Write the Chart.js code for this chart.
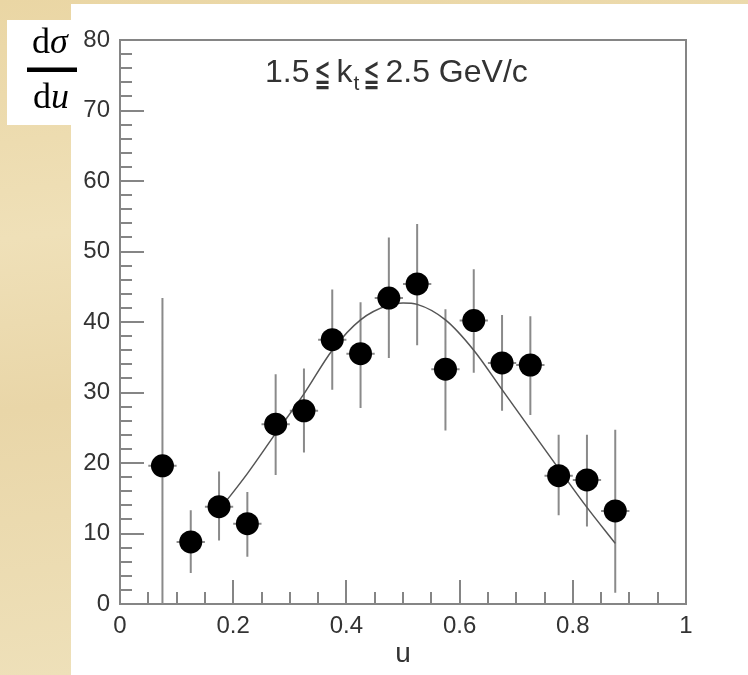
<!DOCTYPE html>
<html>
<head>
<meta charset="utf-8">
<script src="https://cdn.jsdelivr.net/npm/chart.js@4.4.1/dist/chart.umd.min.js"></script>
<style>
  html, body { margin: 0; padding: 0; background: #ead8aa; }
  #wrap { width: 748px; height: 675px; }
</style>
</head>
<body>
<div id="wrap"><canvas id="c" width="748" height="675"></canvas></div>
<script>
// bin centres in u and measured dσ/du, with lower/upper ends of the error bars
const uBins    = [0.075, 0.125, 0.175, 0.225, 0.275, 0.325, 0.375, 0.425, 0.475, 0.525, 0.575, 0.625, 0.675, 0.725, 0.775, 0.825, 0.875];
const dsdu     = [19.6, 8.8, 13.8, 11.4, 25.5, 27.4, 37.5, 35.5, 43.4, 45.4, 33.3, 40.2, 34.2, 33.9, 18.2, 17.6, 13.2];
const dsduLow  = [0, 4.4, 9.0, 6.7, 18.3, 21.5, 30.4, 27.8, 34.9, 36.7, 24.6, 32.8, 27.4, 26.8, 12.6, 11.0, 1.6];
const dsduHigh = [43.4, 13.3, 18.8, 15.9, 32.6, 33.4, 44.6, 42.8, 52.0, 53.9, 41.8, 47.5, 41.0, 40.8, 24.0, 24.0, 24.7];
const binHalf = 0.025;

// fit curve
const fitU = [0.175, 0.225, 0.275, 0.325, 0.375, 0.425, 0.475, 0.5, 0.525, 0.575, 0.625, 0.675, 0.725, 0.775, 0.825, 0.875];
const fitY = [13.3, 18.5, 24.2, 29.8, 36.0, 40.3, 42.4, 42.7, 42.5, 40.3, 36.0, 30.4, 24.8, 19.2, 13.7, 8.6];

const xTicks = [0, 0.2, 0.4, 0.6, 0.8, 1];
const xTickLabels = ['0', '0.2', '0.4', '0.6', '0.8', '1'];
const yTicks = [0, 10, 20, 30, 40, 50, 60, 70, 80];
const yTickLabels = ['0', '10', '20', '30', '40', '50', '60', '70', '80'];
const xMinorStep = 0.05;
const yMinorStep = 2;

const SANS = '"Liberation Sans", Arial, Helvetica, sans-serif';
const SERIF = '"Liberation Serif", "Times New Roman", serif';
const AXIS_GREY = '#858585';

// parchment + white panel behind everything
const paperBg = {
  id: 'paperBg',
  beforeDraw(chart) {
    const ctx = chart.ctx;
    ctx.save();
    const g = ctx.createLinearGradient(0, 0, 80, chart.height);
    g.addColorStop(0, '#ead6a4');
    g.addColorStop(0.35, '#efe0b8');
    g.addColorStop(0.6, '#e9d6a8');
    g.addColorStop(1, '#eee0b9');
    ctx.fillStyle = g;
    ctx.fillRect(0, 0, chart.width, chart.height);
    ctx.fillStyle = '#ffffff';
    ctx.fillRect(71, 4, chart.width - 71, chart.height - 4);
    ctx.fillRect(7, 20, 64, 105);
    ctx.restore();
  }
};

// frame, inward ticks and error bars
const frameAndErrors = {
  id: 'frameAndErrors',
  beforeDatasetsDraw(chart) {
    const { ctx, chartArea: a, scales: { x, y } } = chart;
    ctx.save();
    ctx.strokeStyle = AXIS_GREY;
    ctx.lineWidth = 2;
    ctx.strokeRect(a.left, a.top, a.right - a.left, a.bottom - a.top);

    ctx.beginPath();
    for (let i = 1; i * xMinorStep < 1 - 1e-6; i++) {
      const v = i * xMinorStep;
      const major = xTicks.some(t => Math.abs(t - v) < 1e-6);
      const px = Math.round(x.getPixelForValue(v));
      ctx.moveTo(px, a.bottom);
      ctx.lineTo(px, a.bottom - (major ? 24 : 12));
    }
    for (let i = 1; i * yMinorStep < 80 - 1e-6; i++) {
      const v = i * yMinorStep;
      const major = yTicks.includes(v);
      const py = Math.round(y.getPixelForValue(v));
      ctx.moveTo(a.left, py);
      ctx.lineTo(a.left + (major ? 24 : 12), py);
    }
    ctx.stroke();

    ctx.strokeStyle = '#8a8a8a';
    ctx.beginPath();
    uBins.forEach((u, i) => {
      const px = x.getPixelForValue(u);
      const py = y.getPixelForValue(dsdu[i]);
      ctx.moveTo(px, y.getPixelForValue(dsduLow[i]));
      ctx.lineTo(px, y.getPixelForValue(dsduHigh[i]));
      ctx.moveTo(x.getPixelForValue(u - binHalf), py);
      ctx.lineTo(x.getPixelForValue(u + binHalf), py);
    });
    ctx.stroke();
    ctx.restore();
  }
};

// kt range label and the dσ/du axis label
const labels = {
  id: 'labels',
  afterDraw(chart) {
    const ctx = chart.ctx;
    ctx.save();
    ctx.fillStyle = '#333';
    ctx.textBaseline = 'alphabetic';
    ctx.textAlign = 'left';

    const big = `32px ${SANS}`;
    let cx = 265;
    const base = 82;
    const leq = () => {
      ctx.save();
      ctx.font = '32px "DejaVu Sans"';
      ctx.translate(cx, base + 4);
      ctx.scale(0.6, 1.2);
      ctx.fillText('\u2266', 0, 0);
      const w = ctx.measureText('\u2266').width * 0.6;
      ctx.restore();
      cx += w;
    };
    ctx.font = big;
    ctx.fillText('1.5', cx, base);
    cx += ctx.measureText('1.5').width + 5;
    leq();
    cx += 6;
    ctx.font = big;
    ctx.fillText('k', cx, base);
    cx += ctx.measureText('k').width + 1;
    ctx.font = `21px ${SANS}`;
    ctx.fillText('t', cx, base + 8);
    cx += ctx.measureText('t').width + 4;
    leq();
    cx += 6;
    ctx.font = big;
    ctx.fillText('2.5 GeV/c', cx, base);

    // dσ / du
    ctx.fillStyle = '#000';
    ctx.font = `36px ${SERIF}`;
    const dW = ctx.measureText('d').width;
    ctx.font = `italic 36px ${SERIF}`;
    const sW = ctx.measureText('\u03c3').width;
    const uW = ctx.measureText('u').width;
    let sx = 50 - (dW + sW) / 2;
    ctx.font = `36px ${SERIF}`;
    ctx.fillText('d', sx, 53);
    ctx.font = `italic 36px ${SERIF}`;
    ctx.fillText('\u03c3', sx + dW, 53);
    ctx.fillRect(27, 67.5, 50, 4.5);
    sx = 51 - (dW + uW) / 2;
    ctx.font = `36px ${SERIF}`;
    ctx.fillText('d', sx, 108);
    ctx.font = `italic 36px ${SERIF}`;
    ctx.fillText('u', sx + dW, 108);
    ctx.restore();
  }
};

new Chart(document.getElementById('c'), {
  type: 'scatter',
  data: {
    datasets: [
      {
        label: 'data',
        data: uBins.map((u, i) => ({ x: u, y: dsdu[i] })),
        pointRadius: 11.5,
        pointHoverRadius: 11.5,
        pointBackgroundColor: '#000',
        pointBorderWidth: 0,
        order: 0
      },
      {
        label: 'fit',
        type: 'line',
        data: fitU.map((u, i) => ({ x: u, y: fitY[i] })),
        borderColor: '#555',
        borderWidth: 1.5,
        pointRadius: 0,
        cubicInterpolationMode: 'monotone',
        fill: false,
        order: 1
      }
    ]
  },
  options: {
    responsive: false,
    animation: false,
    devicePixelRatio: 1,
    events: [],
    layout: { padding: { left: 0, top: 40, right: 62, bottom: 0 } },
    plugins: { legend: { display: false }, tooltip: { enabled: false } },
    scales: {
      x: {
        type: 'linear',
        min: 0, max: 1,
        afterBuildTicks: s => { s.ticks = xTicks.map(v => ({ value: v })); },
        afterFit: s => { s.height = 71; },
        grid: { display: false, drawTicks: false },
        border: { display: false },
        ticks: {
          padding: 8, color: '#333', font: { family: SANS, size: 24 }, maxRotation: 0,
          callback: (v, i) => xTickLabels[i]
        },
        title: { display: true, text: 'u', color: '#333', font: { family: SANS, size: 28 }, padding: { top: 0, bottom: 4 } }
      },
      y: {
        type: 'linear',
        min: 0, max: 80,
        afterBuildTicks: s => { s.ticks = yTicks.map(v => ({ value: v })); },
        afterFit: s => { s.width = 120; },
        grid: { display: false, drawTicks: false },
        border: { display: false },
        ticks: {
          padding: 10, color: '#333', font: { family: SANS, size: 24 },
          callback: (v, i) => yTickLabels[i]
        }
      }
    }
  },
  plugins: [paperBg, frameAndErrors, labels]
});
</script>
</body>
</html>
